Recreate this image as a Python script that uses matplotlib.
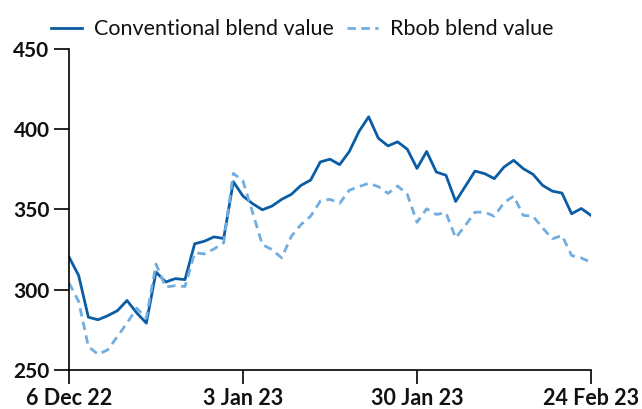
import matplotlib.pyplot as plt
import numpy as np

# Trading-day series, 6 Dec 22 -> 24 Feb 23 (55 points)
conventional = [320.4, 308.8, 282.9, 281.3, 283.8, 286.9, 293.3, 285.6, 279.2, 311.0,
                304.8, 306.9, 306.3, 328.6, 330.2, 332.9, 331.9, 367.3, 358.3, 353.6,
                349.8, 352.1, 356.3, 359.4, 365.0, 368.3, 379.6, 381.3, 377.9, 386.1,
                398.6, 407.7, 394.4, 389.6, 392.1, 387.5, 375.6, 386.1, 373.3, 371.3,
                355.0, 364.4, 373.9, 372.3, 369.2, 376.4, 380.6, 375.4, 371.9, 365.0,
                361.4, 360.2, 347.3, 350.6, 346.3]
rbob = [304.2, 292.7, 264.6, 259.8, 262.5, 270.8, 279.2, 288.5, 282.3, 316.0,
        301.7, 302.5, 302.0, 323.0, 322.3, 325.4, 329.2, 372.5, 367.7, 348.0,
        328.1, 325.0, 319.8, 333.3, 340.6, 345.8, 355.2, 356.3, 353.8, 362.0,
        364.2, 366.3, 364.2, 360.0, 364.6, 359.4, 342.0, 350.4, 346.9, 347.9,
        332.3, 340.0, 348.3, 348.3, 345.8, 354.2, 358.3, 346.3, 345.8, 338.5,
        331.7, 333.8, 321.3, 319.8, 317.0]
tick_pos = [0, 18, 36, 54]
tick_labels = ["6 Dec 22", "3 Jan 23", "30 Jan 23", "24 Feb 23"]

plt.rcParams['font.family'] = ['Lato', 'DejaVu Sans']

fig = plt.figure(figsize=(6.42, 4.09), dpi=100)
ax = fig.add_axes([0.1075, 0.0954, 0.813, 0.785])

x = np.arange(len(conventional))
ax.plot(x, conventional, color='#0a5ca4', lw=2.0, label='Conventional blend value')
ax.plot(x, rbob, color='#72ade0', lw=2.0, ls=(0, (3.0, 2.0)), label='Rbob blend value')

ax.set_xlim(0, 54)
ax.set_ylim(250, 450)
ax.set_yticks([250, 300, 350, 400, 450])
ax.set_xticks(tick_pos)
ax.set_xticklabels(tick_labels)
for s in ['top', 'right']:
    ax.spines[s].set_visible(False)
for s in ['left', 'bottom']:
    ax.spines[s].set_linewidth(1.2)
ax.tick_params(axis='y', length=11, width=1.2, labelsize=15, pad=3)
ax.tick_params(axis='x', length=10, width=1.2, labelsize=15.5, pad=3)
for lab in ax.get_xticklabels() + ax.get_yticklabels():
    lab.set_fontweight('bold')
    lab.set_color('#111111')

leg = ax.legend(loc='lower left', bbox_to_anchor=(-0.035, 1.03), ncol=2, frameon=False,
                fontsize=15.5, handlelength=1.45, columnspacing=0.6, handletextpad=0.55,
                borderaxespad=0, borderpad=0)
for t in leg.get_texts():
    t.set_color('#111111')

fig.savefig('out.png', dpi=100)
